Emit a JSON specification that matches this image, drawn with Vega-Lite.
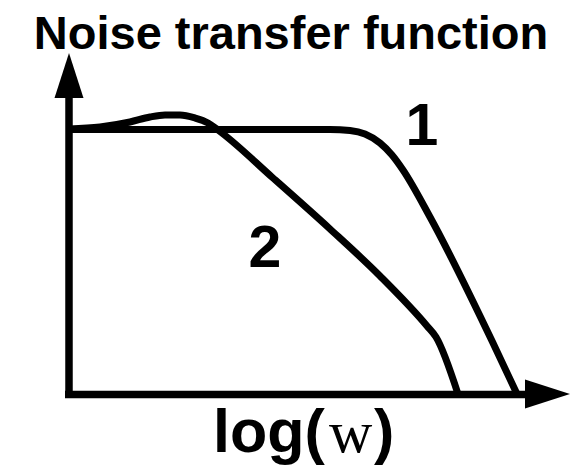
{
  "$schema": "https://vega.github.io/schema/vega-lite/v6.json",
  "width": 576,
  "height": 469,
  "padding": 0,
  "autosize": {"type": "none"},
  "config": {"view": {"stroke": null}},
  "datasets": {
    "curves": [
      {"curve": "1", "x": 69, "y": 129.5},
      {"curve": "1", "x": 330, "y": 129.5},
      {"curve": "1", "x": 350, "y": 130.5},
      {"curve": "1", "x": 365, "y": 134},
      {"curve": "1", "x": 380, "y": 143},
      {"curve": "1", "x": 392, "y": 155},
      {"curve": "1", "x": 403, "y": 170},
      {"curve": "1", "x": 430, "y": 217},
      {"curve": "1", "x": 493, "y": 343},
      {"curve": "1", "x": 517, "y": 394},
      {"curve": "2", "x": 69, "y": 129},
      {"curve": "2", "x": 100, "y": 127},
      {"curve": "2", "x": 130, "y": 122},
      {"curve": "2", "x": 150, "y": 117},
      {"curve": "2", "x": 165, "y": 115},
      {"curve": "2", "x": 180, "y": 115},
      {"curve": "2", "x": 195, "y": 118},
      {"curve": "2", "x": 208, "y": 123},
      {"curve": "2", "x": 218, "y": 130},
      {"curve": "2", "x": 273, "y": 178},
      {"curve": "2", "x": 330, "y": 229},
      {"curve": "2", "x": 380, "y": 276},
      {"curve": "2", "x": 427, "y": 326},
      {"curve": "2", "x": 436, "y": 337},
      {"curve": "2", "x": 458, "y": 394}
    ],
    "axes": [
      {"axis": "y", "x": 69, "y": 398},
      {"axis": "y", "x": 69, "y": 96},
      {"axis": "x", "x": 65, "y": 394.5},
      {"axis": "x", "x": 527, "y": 394.5}
    ],
    "upArrow": [{"x": 69, "y": 75.5}],
    "rightArrow": [{"x": 547.5, "y": 394}],
    "title": [{"x": 291, "y": 49, "label": "Noise transfer function"}],
    "curveLabels": [
      {"x": 422, "y": 145, "label": "1"},
      {"x": 265, "y": 267, "label": "2"}
    ],
    "xSans": [
      {"x": 213, "y": 452, "label": "log("},
      {"x": 374, "y": 452, "label": ")"}
    ],
    "xSerif": [{"x": 329, "y": 452, "label": "w"}]
  },
  "layer": [
    {
      "data": {"name": "axes"},
      "mark": {"type": "line", "color": "black", "strokeWidth": 7.5, "strokeCap": "butt"},
      "encoding": {
        "x": {"field": "x", "type": "quantitative", "scale": {"domain": [0, 576]}, "axis": null},
        "y": {"field": "y", "type": "quantitative", "scale": {"domain": [0, 469], "reverse": true}, "axis": null},
        "detail": {"field": "axis"}
      }
    },
    {
      "data": {"name": "curves"},
      "mark": {"type": "line", "color": "black", "strokeWidth": 7, "interpolate": "monotone", "strokeCap": "butt"},
      "encoding": {
        "x": {"field": "x", "type": "quantitative", "scale": {"domain": [0, 576]}, "axis": null},
        "y": {"field": "y", "type": "quantitative", "scale": {"domain": [0, 469], "reverse": true}, "axis": null},
        "detail": {"field": "curve"}
      }
    },
    {
      "data": {"name": "upArrow"},
      "mark": {"type": "point", "shape": "M0,-1L0.644,1L-0.644,1Z", "size": 2025, "filled": true, "color": "black", "opacity": 1, "strokeWidth": 0},
      "encoding": {
        "x": {"field": "x", "type": "quantitative", "scale": {"domain": [0, 576]}, "axis": null},
        "y": {"field": "y", "type": "quantitative", "scale": {"domain": [0, 469], "reverse": true}, "axis": null}
      }
    },
    {
      "data": {"name": "rightArrow"},
      "mark": {"type": "point", "shape": "M1,0L-1,-0.644L-1,0.644Z", "size": 2025, "filled": true, "color": "black", "opacity": 1, "strokeWidth": 0},
      "encoding": {
        "x": {"field": "x", "type": "quantitative", "scale": {"domain": [0, 576]}, "axis": null},
        "y": {"field": "y", "type": "quantitative", "scale": {"domain": [0, 469], "reverse": true}, "axis": null}
      }
    },
    {
      "data": {"name": "title"},
      "mark": {"type": "text", "font": "Liberation Sans", "fontWeight": "bold", "fontSize": 47, "align": "center", "baseline": "alphabetic", "color": "black"},
      "encoding": {
        "x": {"field": "x", "type": "quantitative", "scale": {"domain": [0, 576]}, "axis": null},
        "y": {"field": "y", "type": "quantitative", "scale": {"domain": [0, 469], "reverse": true}, "axis": null},
        "text": {"field": "label"}
      }
    },
    {
      "data": {"name": "curveLabels"},
      "mark": {"type": "text", "font": "Liberation Sans", "fontWeight": "bold", "fontSize": 59, "align": "center", "baseline": "alphabetic", "color": "black"},
      "encoding": {
        "x": {"field": "x", "type": "quantitative", "scale": {"domain": [0, 576]}, "axis": null},
        "y": {"field": "y", "type": "quantitative", "scale": {"domain": [0, 469], "reverse": true}, "axis": null},
        "text": {"field": "label"}
      }
    },
    {
      "data": {"name": "xSans"},
      "mark": {"type": "text", "font": "Liberation Sans", "fontWeight": "bold", "fontSize": 61, "align": "left", "baseline": "alphabetic", "color": "black"},
      "encoding": {
        "x": {"field": "x", "type": "quantitative", "scale": {"domain": [0, 576]}, "axis": null},
        "y": {"field": "y", "type": "quantitative", "scale": {"domain": [0, 469], "reverse": true}, "axis": null},
        "text": {"field": "label"}
      }
    },
    {
      "data": {"name": "xSerif"},
      "mark": {"type": "text", "font": "Liberation Serif", "fontWeight": "normal", "fontSize": 60, "align": "left", "baseline": "alphabetic", "color": "black"},
      "encoding": {
        "x": {"field": "x", "type": "quantitative", "scale": {"domain": [0, 576]}, "axis": null},
        "y": {"field": "y", "type": "quantitative", "scale": {"domain": [0, 469], "reverse": true}, "axis": null},
        "text": {"field": "label"}
      }
    }
  ]
}
